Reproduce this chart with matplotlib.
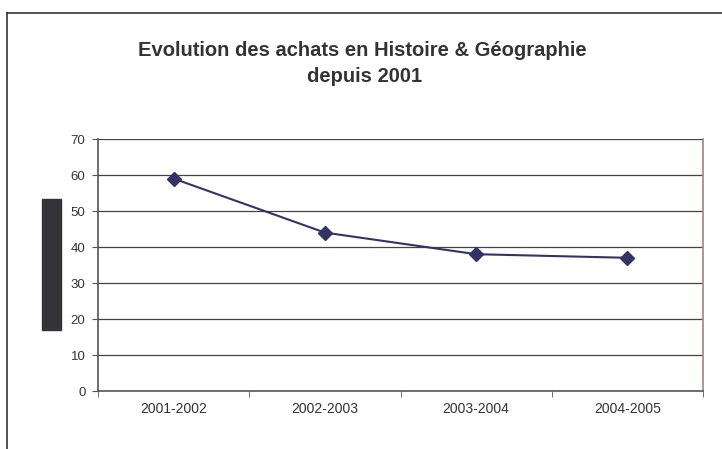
import numpy as np
import matplotlib.pyplot as plt
from matplotlib.patches import Rectangle

plt.rcParams['font.family'] = ['Liberation Sans', 'DejaVu Sans']

periods = ['2001-2002', '2002-2003', '2003-2004', '2004-2005']
achats = [59, 44, 38, 37]
yticks = [0, 10, 20, 30, 40, 50, 60, 70]

W, H = 722, 449
fig = plt.figure(figsize=(W / 100, H / 100), dpi=100)

# plot area in pixels: x 98..703, y 139..391
ax = fig.add_axes([98 / W, 1 - 391 / H, (703 - 98) / W, (391 - 139) / H])

x = np.arange(len(periods))
ax.plot(x, achats, color='#333366', lw=1.5, marker='D', ms=7,
        markerfacecolor='#333366', markeredgecolor='#333366', zorder=3)

ax.set_xlim(-0.5, len(periods) - 0.5)
ax.set_ylim(0, 70)
ax.set_yticks(yticks)
ax.set_yticklabels([str(v) for v in yticks], fontsize=9.5, color='#333333')
ax.set_xticks(x)
ax.set_xticklabels(periods, fontsize=10, color='#333333')
ax.tick_params(axis='x', length=0, pad=8)
ax.tick_params(axis='y', length=4, color='#555555', pad=5)
ax.set_xticks(np.arange(len(periods) + 1) - 0.5, minor=True)
ax.tick_params(axis='x', which='minor', length=4, color='#555555')

ax.grid(axis='y', color='#444444', lw=0.9)
ax.set_axisbelow(True)
ax.spines['top'].set_visible(False)
ax.spines['left'].set_color('#555555')
ax.spines['bottom'].set_color('#555555')
ax.spines['right'].set_color('#998888')
for s in ax.spines.values():
    s.set_linewidth(1.2)

fig.text(362 / W, 1 - 50 / H, 'Evolution des achats en Histoire & Géographie',
         ha='center', va='center', fontsize=14.5, fontweight='bold', color='#333333')
fig.text(365 / W, 1 - 77 / H, 'depuis 2001',
         ha='center', va='center', fontsize=14.5, fontweight='bold', color='#333333')

# dark box where the y label sits
fig.patches.append(Rectangle((42 / W, 1 - 330 / H), 19 / W, 131 / H,
                             transform=fig.transFigure, color='#333338'))

# outer chart border (left and top edges visible)
fig.add_artist(plt.Line2D([7 / W, 7 / W], [0, 1 - 13 / H], transform=fig.transFigure,
                          color='#333333', lw=1.2))
fig.add_artist(plt.Line2D([7 / W, 1], [1 - 13 / H, 1 - 13 / H], transform=fig.transFigure,
                          color='#333333', lw=1.2))

fig.savefig('out.png', dpi=100)
